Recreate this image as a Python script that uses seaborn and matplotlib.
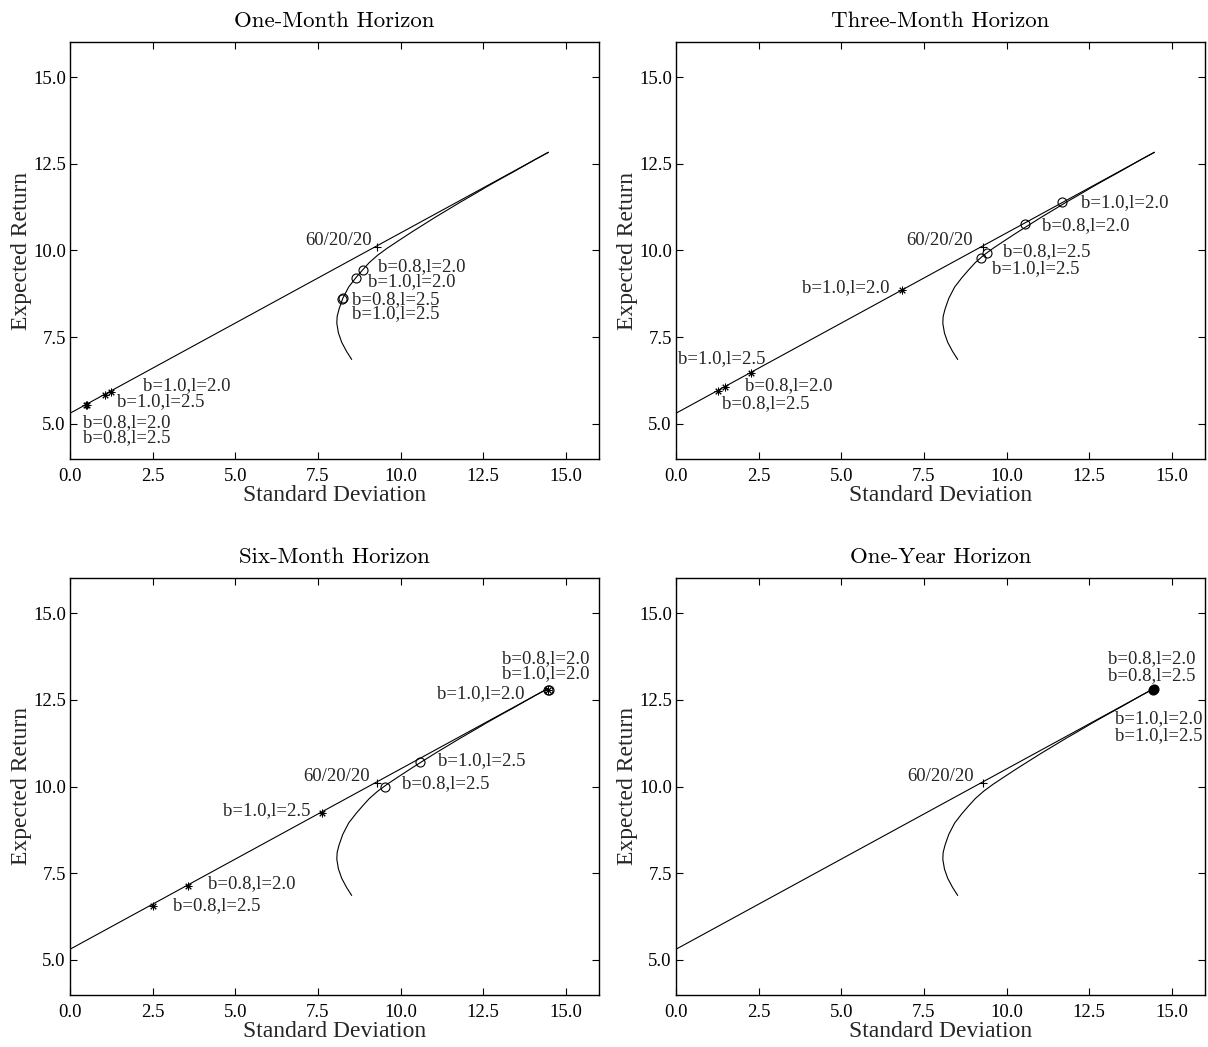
import numpy as np
import seaborn as sns
import matplotlib.pyplot as plt

# --- data ---
titles = ["One-Month Horizon", "Three-Month Horizon", "Six-Month Horizon", "One-Year Horizon"]

# straight line from the riskless rate to the all-equity end point
cml_sd = [0.0, 14.47]
cml_ret = [5.31, 12.83]

# mean-variance frontier
frontier_sd = [8.52, 8.36, 8.22, 8.12, 8.07, 8.08, 8.14, 8.25, 8.43, 8.65, 8.85, 9.05, 9.30,
               9.60, 9.98, 10.35, 10.70, 11.05, 11.40, 11.80, 12.20, 12.60, 13.00, 13.40,
               13.75, 14.10, 14.47]
frontier_ret = [6.86, 7.10, 7.35, 7.62, 7.90, 8.10, 8.32, 8.62, 8.95, 9.22, 9.44, 9.65, 9.86,
                10.07, 10.31, 10.54, 10.75, 10.96, 11.16, 11.39, 11.61, 11.835, 12.05, 12.26,
                12.45, 12.64, 12.83]

# 60/20/20 benchmark
mix_sd = [9.28]
mix_ret = [10.10]

# open circles (one entry per strategy) and asterisks, per horizon
circle_sd = [[8.22, 8.27, 8.65, 8.85],
             [11.68, 10.56, 9.41, 9.23],
             [14.45, 14.49, 10.59, 9.53],
             [14.44, 14.46]]
circle_ret = [[8.60, 8.64, 9.22, 9.44],
              [11.40, 10.76, 9.93, 9.78],
              [12.77, 12.79, 10.71, 9.99],
              [12.78, 12.80]]
star_sd = [[0.47, 0.50, 1.06, 1.23],
           [6.84, 2.27, 1.47, 1.27],
           [14.47, 7.61, 3.57, 2.51],
           [14.44, 14.46]]
star_ret = [[5.54, 5.56, 5.84, 5.91],
            [8.86, 6.48, 6.06, 5.96],
            [12.78, 9.23, 7.13, 6.56],
            [12.78, 12.80]]
filled_end = [False, False, False, True]

# annotation texts with their places (sd, return, alignment)
notes = [
    [("60/20/20", 9.13, 10.30, 'right'),
     ("b=0.8,l=2.0", 9.33, 9.53, 'left'),
     ("b=1.0,l=2.0", 9.02, 9.10, 'left'),
     ("b=0.8,l=2.5", 8.52, 8.59, 'left'),
     ("b=1.0,l=2.5", 8.52, 8.17, 'left'),
     ("b=1.0,l=2.0", 2.22, 6.12, 'left'),
     ("b=1.0,l=2.5", 1.41, 5.64, 'left'),
     ("b=0.8,l=2.0", 0.40, 5.05, 'left'),
     ("b=0.8,l=2.5", 0.40, 4.62, 'left')],
    [("60/20/20", 8.97, 10.28, 'right'),
     ("b=1.0,l=2.0", 12.25, 11.39, 'left'),
     ("b=0.8,l=2.0", 11.06, 10.73, 'left'),
     ("b=0.8,l=2.5", 9.88, 9.97, 'left'),
     ("b=1.0,l=2.5", 9.56, 9.49, 'left'),
     ("b=1.0,l=2.0", 6.45, 8.94, 'right'),
     ("b=1.0,l=2.5", 0.07, 6.89, 'left'),
     ("b=0.8,l=2.0", 2.09, 6.10, 'left'),
     ("b=0.8,l=2.5", 1.39, 5.60, 'left')],
    [("60/20/20", 9.07, 10.30, 'right'),
     ("b=0.8,l=2.0", 13.06, 13.69, 'left'),
     ("b=1.0,l=2.0", 13.06, 13.26, 'left'),
     ("b=1.0,l=2.0", 13.76, 12.69, 'right'),
     ("b=1.0,l=2.5", 11.14, 10.74, 'left'),
     ("b=0.8,l=2.5", 10.03, 10.07, 'left'),
     ("b=1.0,l=2.5", 7.26, 9.32, 'right'),
     ("b=0.8,l=2.0", 4.17, 7.19, 'left'),
     ("b=0.8,l=2.5", 3.12, 6.58, 'left')],
    [("60/20/20", 9.02, 10.28, 'right'),
     ("b=0.8,l=2.0", 13.06, 13.69, 'left'),
     ("b=0.8,l=2.5", 13.06, 13.21, 'left'),
     ("b=1.0,l=2.0", 13.28, 11.97, 'left'),
     ("b=1.0,l=2.5", 13.28, 11.48, 'left')],
]

xticks = [0.0, 2.5, 5.0, 7.5, 10.0, 12.5, 15.0]
yticks = [5.0, 7.5, 10.0, 12.5, 15.0]

# --- drawing ---
sns.set_style("ticks")
plt.rcParams['font.family'] = ['Liberation Serif', 'DejaVu Serif']

fig = plt.figure(figsize=(12.08, 10.47), dpi=100)
W, H = 1208, 1047
boxes = [(70, 42.3), (676, 42.3), (70, 578.3), (676, 578.3)]  # left, top in px
aw, ah = 529, 416.4

asterisk = (8, 2, 0)

for i in range(4):
    left, top = boxes[i]
    ax = fig.add_axes([left / W, 1 - (top + ah) / H, aw / W, ah / H])

    sns.lineplot(x=cml_sd, y=cml_ret, ax=ax, color='black', lw=0.8,
                 sort=False, estimator=None)
    sns.lineplot(x=frontier_sd, y=frontier_ret, ax=ax, color='black', lw=0.8,
                 sort=False, estimator=None)

    ax.plot(mix_sd, mix_ret, ls='none', marker='+', ms=6, mew=0.8, color='black')
    if filled_end[i]:
        ax.plot(circle_sd[i], circle_ret[i], ls='none', marker='o', ms=6.5,
                mfc='black', mec='black', mew=0.8)
    else:
        ax.plot(circle_sd[i], circle_ret[i], ls='none', marker='o', ms=6.5,
                mfc='none', mec='black', mew=0.8)
    ax.plot(star_sd[i], star_ret[i], ls='none', marker=asterisk, ms=5.5, mew=0.7,
            color='black')

    for txt, x, y, ha in notes[i]:
        ax.text(x, y, txt, ha=ha, va='center', fontsize=13.5)

    ax.set_xlim(0, 16)
    ax.set_ylim(4, 16)
    ax.set_xticks(xticks)
    ax.set_yticks(yticks)
    ax.set_xticklabels(['%.1f' % t for t in xticks])
    ax.set_yticklabels(['%.1f' % t for t in yticks])
    ax.tick_params(direction='in', top=True, right=True, length=5, width=0.8,
                   labelsize=13.5, colors='black')
    ax.tick_params(axis='x', pad=7)
    ax.tick_params(axis='y', pad=3)
    for s in ax.spines.values():
        s.set_linewidth(1.0)
        s.set_color('black')

    ax.set_xlabel('Standard Deviation', fontsize=17, labelpad=0)
    ax.set_ylabel('Expected Return', fontsize=17, labelpad=1)
    ax.set_title(titles[i], fontsize=16.5, family='cmr10', pad=11, color='black')

fig.savefig('out.png', dpi=100)
